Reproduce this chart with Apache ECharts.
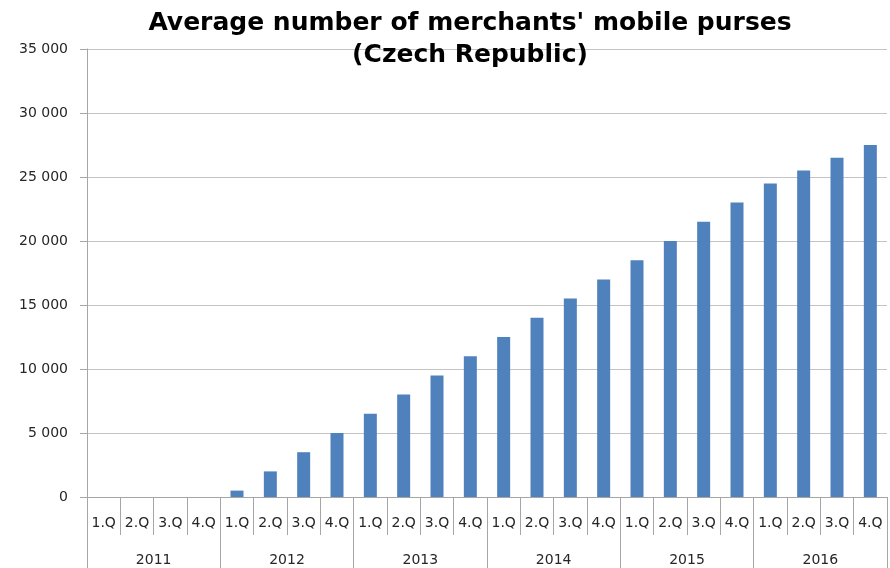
<!DOCTYPE html>
<html>
<head>
<meta charset="utf-8">
<script src="https://cdn.jsdelivr.net/npm/echarts@6/dist/echarts.min.js"></script>
<style>
  html, body { margin: 0; padding: 0; background: #fff; }
  #chart { width: 890px; height: 568px; }
</style>
</head>
<body>
<div id="chart"></div>
<script>
// Quarterly average number of merchants' mobile purses
const quarters = ['1.Q', '2.Q', '3.Q', '4.Q'];
const years = ['2011', '2012', '2013', '2014', '2015', '2016'];
const purses = [
  0, 0, 0, 0,
  500, 2000, 3500, 5000,
  6500, 8000, 9500, 11000,
  12500, 14000, 15500, 17000,
  18500, 20000, 21500, 23000,
  24500, 25500, 26500, 27500
];

const quarterCats = [];
years.forEach(function () { quarters.forEach(function (q) { quarterCats.push(q); }); });

// thousands separated by a space, e.g. 35 000
const fmt = function (v) {
  return String(v).replace(/\B(?=(\d{3})+(?!\d))/g, ' ');
};

const labelFont = { fontFamily: 'DejaVu Sans', fontSize: 14, color: '#262626' };

const chart = echarts.init(document.getElementById('chart'));
chart.setOption({
  animation: false,
  backgroundColor: '#ffffff',
  title: {
    text: "Average number of merchants' mobile purses\n(Czech Republic)",
    left: 470,
    top: 7,
    padding: 0,
    textAlign: 'center',
    textStyle: {
      fontFamily: 'DejaVu Sans',
      fontWeight: 'bold',
      fontSize: 25,
      lineHeight: 32,
      color: '#000'
    }
  },
  grid: { left: 87, right: 3, top: 49, bottom: 71, containLabel: false },
  xAxis: [
    {
      type: 'category',
      data: quarterCats,
      position: 'bottom',
      axisLine: { show: true, lineStyle: { color: '#a6a6a6', width: 1 } },
      axisTick: { show: true, interval: 0, length: 38, lineStyle: { color: '#a6a6a6' } },
      axisLabel: Object.assign({ interval: 0, margin: 19 }, labelFont)
    },
    {
      type: 'category',
      data: years,
      position: 'bottom',
      axisLine: { show: false },
      axisTick: { show: true, interval: 0, length: 71, lineStyle: { color: '#a6a6a6' } },
      axisLabel: Object.assign({ interval: 0, margin: 56 }, labelFont)
    }
  ],
  yAxis: {
    type: 'value',
    min: 0,
    max: 35000,
    interval: 5000,
    axisLine: { show: true, lineStyle: { color: '#a6a6a6' } },
    axisTick: { show: true, length: 7, lineStyle: { color: '#a6a6a6' } },
    splitLine: { show: true, lineStyle: { color: '#c4c4c4' } },
    axisLabel: Object.assign({ margin: 19, formatter: fmt }, labelFont)
  },
  series: [
    {
      type: 'bar',
      xAxisIndex: 0,
      data: purses,
      barWidth: 13,
      itemStyle: { color: '#4f81bd' }
    }
  ]
});
</script>
</body>
</html>
